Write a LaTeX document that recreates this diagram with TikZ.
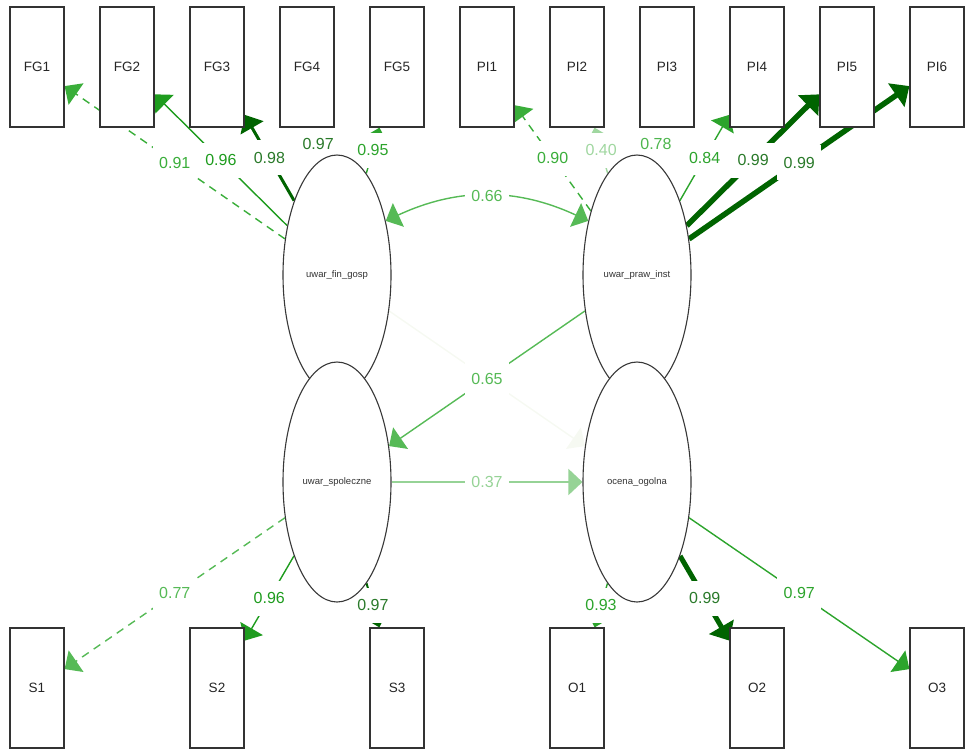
\documentclass[tikz,border=0pt]{standalone}
\usepackage{fontspec}
\setmainfont{Liberation Sans}
\usetikzlibrary{shapes.geometric,arrows.meta}
\pgfdeclarelayer{edgelayer}
\pgfsetlayers{edgelayer,main}
\definecolor{dk}{RGB}{0,100,0}
\definecolor{dkl}{RGB}{42,122,42}
\definecolor{cA}{RGB}{58,174,58}
\definecolor{cB}{RGB}{30,156,30}
\definecolor{cC}{RGB}{44,164,44}
\definecolor{cL}{RGB}{86,186,86}
\definecolor{c78}{RGB}{78,182,78}
\definecolor{c40}{RGB}{160,215,160}
\definecolor{c37}{RGB}{150,211,150}
\definecolor{cfaint}{RGB}{246,249,242}
\begin{document}
\begin{tikzpicture}[x=1pt,y=-1pt,
  box/.style={draw=black!80, line width=1.2pt, fill=white, rectangle, minimum width=54pt, minimum height=120pt, inner sep=0pt, text=black!85, font=\fontsize{13.5}{15}\selectfont},
  lat/.style={draw=black!78, line width=1.1pt, fill=white, ellipse, minimum width=108pt, minimum height=240pt, inner sep=0pt, text=black!80, font=\fontsize{9.5}{11}\selectfont},
  lbl/.style={fill=white, inner sep=0pt, minimum width=44pt, minimum height=35pt, font=\fontsize{16}{17}\selectfont},
  thinE/.style={line width=1.4pt, -{Triangle[length=14pt,width=26pt]}},
  midE/.style={line width=3pt, -{Triangle[length=15pt,width=26pt]}},
  thickE/.style={line width=5.5pt, -{Triangle[length=16pt,width=28pt]}},
  dashE/.style={dash pattern=on 8pt off 6pt}
]
\useasboundingbox (0,0) rectangle (965,750);
% manifest variables
\foreach \n/\x in {FG1/37,FG2/127,FG3/217,FG4/307,FG5/397,PI1/487,PI2/577,PI3/667,PI4/757,PI5/847,PI6/937}
  \node[box] (\n) at (\x,67) {\n};
\foreach \n/\x in {S1/37,S2/217,S3/397,O1/577,O2/757,O3/937}
  \node[box] (\n) at (\x,688) {\n};
% latent variables
\node[lat] (fin) at (337,275) {uwar\_fin\_gosp};
\node[lat] (praw) at (637,275) {uwar\_praw\_inst};
\node[lat] (spol) at (337,482) {uwar\_spoleczne};
\node[lat] (ocena) at (637,482) {ocena\_ogolna};

\begin{pgfonlayer}{edgelayer}
\draw[thinE, color=cfaint] (fin) -- (ocena);
% loadings
\draw[thinE, dashE, color=cA] (fin) -- node[lbl]{0.91} (FG1);
\draw[thinE, color=cB] (fin) -- node[lbl]{0.96} (FG2);
\draw[midE, color=dk] (fin) -- node[lbl, text=dkl]{0.98} (FG3);
\draw[line width=2.5pt, -{Triangle[length=14pt,width=26pt]}, color=dk] (fin) -- node[lbl, text=dkl]{0.97} (FG4);
\draw[thinE, color=cC] (fin) -- node[lbl]{0.95} (FG5);
\draw[thinE, dashE, color=cA] (praw) -- node[lbl]{0.90} (PI1);
\draw[thinE, color=c40] (praw) -- node[lbl]{0.40} (PI2);
\draw[thinE, color=c78] (praw) -- node[lbl]{0.78} (PI3);
\draw[thinE, color=cC] (praw) -- node[lbl]{0.84} (PI4);
\draw[thickE, color=dk] (praw) -- node[lbl, text=dkl]{0.99} (PI5);
\draw[thickE, color=dk] (praw) -- node[lbl, text=dkl]{0.99} (PI6);
\draw[thinE, dashE, color=cL] (spol) -- node[lbl]{0.77} (S1);
\draw[thinE, color=cB] (spol) -- node[lbl]{0.96} (S2);
\draw[line width=2pt, -{Triangle[length=14pt,width=26pt]}, color=dk] (spol) -- node[lbl, text=dkl]{0.97} (S3);
\draw[thinE, color=cC] (ocena) -- node[lbl]{0.93} (O1);
\draw[line width=5pt, -{Triangle[length=16pt,width=28pt]}, color=dk] (ocena) -- node[lbl, text=dkl]{0.99} (O2);
\draw[thinE, color=cC] (ocena) -- node[lbl]{0.97} (O3);
% structural
\draw[line width=1.4pt, {Triangle[length=14pt,width=26pt]}-{Triangle[length=14pt,width=26pt]}, color=cL] (fin.48) to[bend left=25] node[lbl, minimum height=24pt]{0.66} (praw.132);
\draw[thinE, color=cL] (praw) -- node[lbl]{0.65} (spol);
\draw[thinE, color=c37] (spol) -- node[lbl]{0.37} (ocena);
\end{pgfonlayer}
\end{tikzpicture}
\end{document}
